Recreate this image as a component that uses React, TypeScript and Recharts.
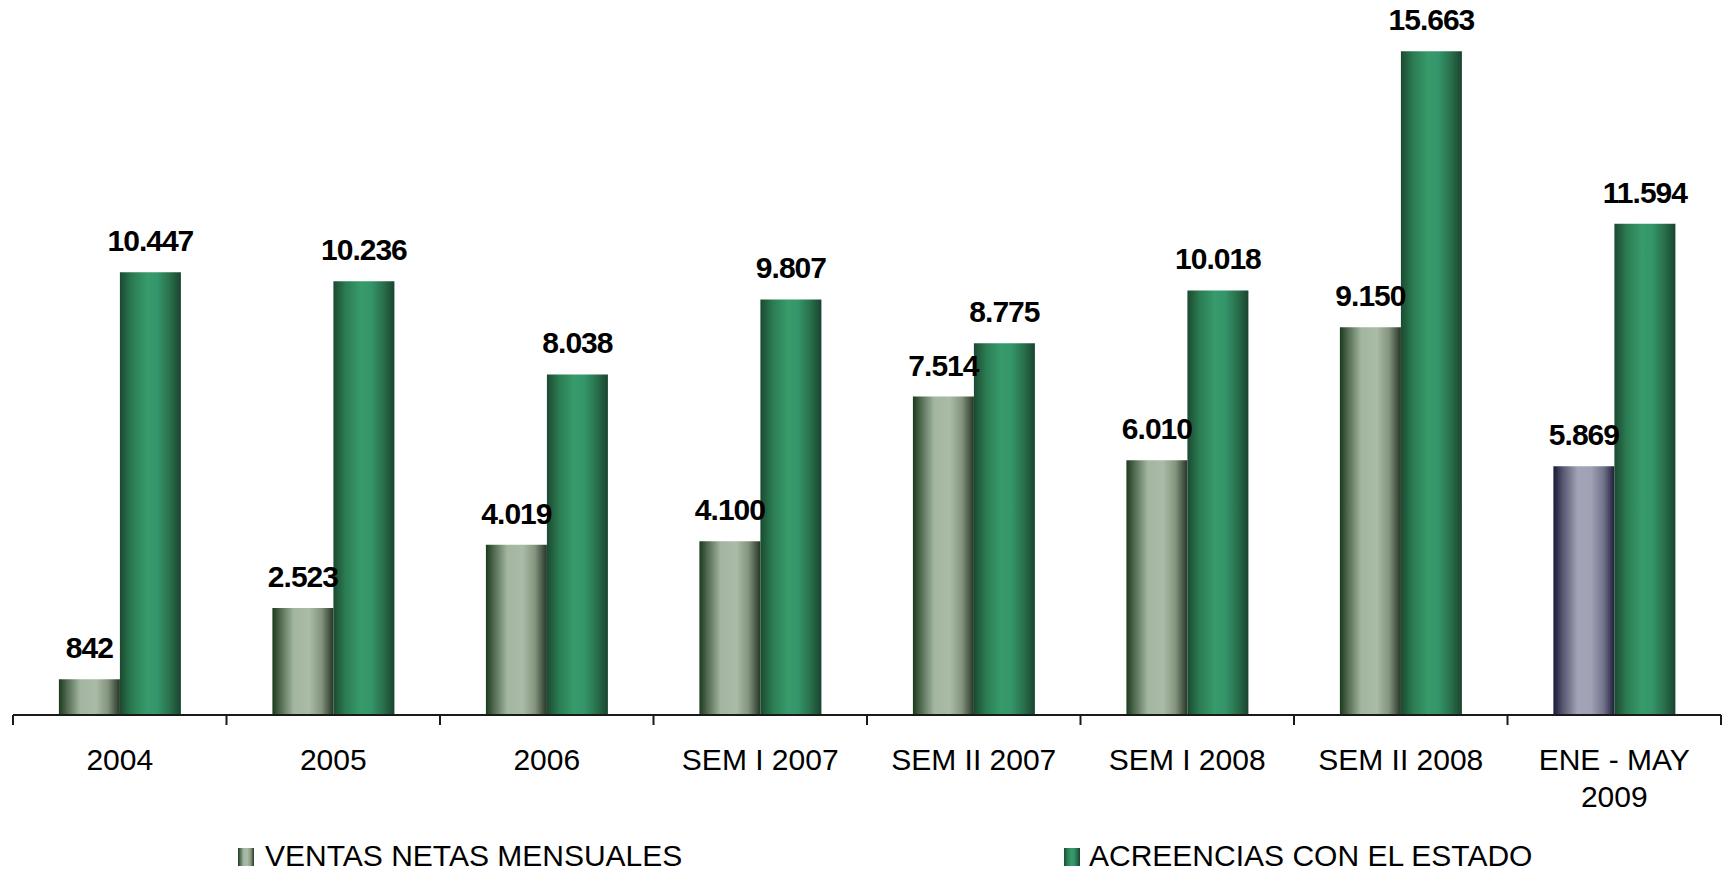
import React from "react";
import { BarChart, Bar, XAxis, YAxis, Legend, LabelList, Cell } from "recharts";

const categories = ["2004", "2005", "2006", "SEM I 2007", "SEM II 2007", "SEM I 2008", "SEM II 2008", "ENE - MAY\n2009"];
const ventas = [842, 2523, 4019, 4100, 7514, 6010, 9150, 5869];
const acreencias = [10447, 10236, 8038, 9807, 8775, 10018, 15663, 11594];
const seriesNames = ["VENTAS NETAS MENSUALES", "ACREENCIAS CON EL ESTADO"];
const yDomain = [0, 16000];

const data = categories.map((c, i) => ({ cat: c, ventas: ventas[i], acreencias: acreencias[i] }));

const FONT = "'Liberation Sans', Arial, Helvetica, sans-serif";

const fmt = (v: number) => String(v).replace(/\B(?=(\d{3})+(?!\d))/g, ".");

const GradDefs = ({ prefix }: { prefix: string }) => (
  <defs>
    <linearGradient id={`${prefix}Ventas`} x1="0" y1="0" x2="1" y2="0">
      <stop offset="0" stopColor="#1b3a1d" />
      <stop offset="0.12" stopColor="#4d664c" />
      <stop offset="0.35" stopColor="#a3b6a0" />
      <stop offset="0.6" stopColor="#aabba7" />
      <stop offset="0.8" stopColor="#85957f" />
      <stop offset="1" stopColor="#263626" />
    </linearGradient>
    <linearGradient id={`${prefix}Green`} x1="0" y1="0" x2="1" y2="0">
      <stop offset="0" stopColor="#1b4a31" />
      <stop offset="0.2" stopColor="#2b7c52" />
      <stop offset="0.45" stopColor="#379b6b" />
      <stop offset="0.62" stopColor="#34956a" />
      <stop offset="0.82" stopColor="#296f4b" />
      <stop offset="1" stopColor="#1a4430" />
    </linearGradient>
    <linearGradient id={`${prefix}Navy`} x1="0" y1="0" x2="1" y2="0">
      <stop offset="0" stopColor="#181838" />
      <stop offset="0.15" stopColor="#55566e" />
      <stop offset="0.4" stopColor="#a3a4b8" />
      <stop offset="0.62" stopColor="#a0a1b5" />
      <stop offset="0.82" stopColor="#73748c" />
      <stop offset="1" stopColor="#1e1e3a" />
    </linearGradient>
  </defs>
);

const Tick = (props: any) => {
  const { x, y, payload, index } = props;
  const half = payload && typeof payload.offset === "number" && payload.offset > 0 ? payload.offset : (1722 - 14) / categories.length / 2;
  const lines = String(payload.value).split("\n");
  return (
    <g>
      <line x1={x - half} y1={y} x2={x - half} y2={y + 10} stroke="#1a1a1a" strokeWidth={2} />
      {index === categories.length - 1 && (
        <line x1={x + half} y1={y} x2={x + half} y2={y + 10} stroke="#1a1a1a" strokeWidth={2} />
      )}
      <text x={x} y={y + 55} textAnchor="middle" fontSize={30} fontFamily={FONT} fill="#000">
        {lines.map((l, i) => (
          <tspan key={i} x={x} dy={i === 0 ? 0 : 37}>
            {l}
          </tspan>
        ))}
      </text>
    </g>
  );
};

const renderLabels = (props: any) => {
  const vb = props.viewBox || {};
  const x = props.x ?? vb.x;
  const y = props.y ?? vb.y;
  const width = props.width ?? vb.width;
  const height = props.height ?? vb.height;
  const index = props.index;
  if (x == null || index == null) return null;
  const base = y + height;
  const k = height / acreencias[index];
  const vTop = base - ventas[index] * k;
  const style = { fontSize: 30, fontWeight: 700, fontFamily: FONT, letterSpacing: -1 } as any;
  return (
    <g key={`lbl-${index}`}>
      <text x={x - width / 2} y={vTop - 21} textAnchor="middle" fill="#000" style={style}>
        {fmt(ventas[index])}
      </text>
      <text x={x + width / 2} y={y - 21} textAnchor="middle" fill="#000" style={style}>
        {fmt(acreencias[index])}
      </text>
    </g>
  );
};

const LegendContent = () => (
  <svg width={1722} height={42} style={{ display: "block" }}>
    <GradDefs prefix="lg" />
    <rect x={238} y={18} width={16} height={18} fill="url(#lgVentas)" />
    <text x={265} y={36} fontSize={30} fontFamily={FONT} fill="#000">
      {seriesNames[0]}
    </text>
    <rect x={1064} y={18} width={16} height={18} fill="url(#lgGreen)" />
    <text x={1089} y={36} fontSize={30} fontFamily={FONT} fill="#000">
      {seriesNames[1]}
    </text>
  </svg>
);

export default function App() {
  return (
    <div style={{ position: "absolute", left: 0, top: 0, width: 1722, height: 872, background: "#fff" }}>
      <BarChart
        width={1722}
        height={872}
        data={data}
        margin={{ top: 37, right: 1, left: 13, bottom: 0 }}
        barCategoryGap="21.5%"
        barGap={0}
      >
        <GradDefs prefix="g" />
        <XAxis
          dataKey="cat"
          height={115}
          tickSize={0}
          tickMargin={0}
          tickLine={false}
          interval={0}
          tick={<Tick />}
          axisLine={{ stroke: "#1a1a1a", strokeWidth: 2 }}
        />
        <YAxis hide domain={yDomain} />
        <Legend
          verticalAlign="bottom"
          height={42}
          content={() => <LegendContent />}
          wrapperStyle={{ left: 0, bottom: 0, width: 1722, height: 42 }}
        />
        <Bar dataKey="ventas" name={seriesNames[0]} fill="url(#gVentas)" isAnimationActive={false}>
          {ventas.map((_, i) => (
            <Cell key={i} fill={i === ventas.length - 1 ? "url(#gNavy)" : "url(#gVentas)"} />
          ))}
        </Bar>
        <Bar dataKey="acreencias" name={seriesNames[1]} fill="url(#gGreen)" isAnimationActive={false}>
          <LabelList dataKey="acreencias" content={renderLabels} />
        </Bar>
      </BarChart>
    </div>
  );
}
